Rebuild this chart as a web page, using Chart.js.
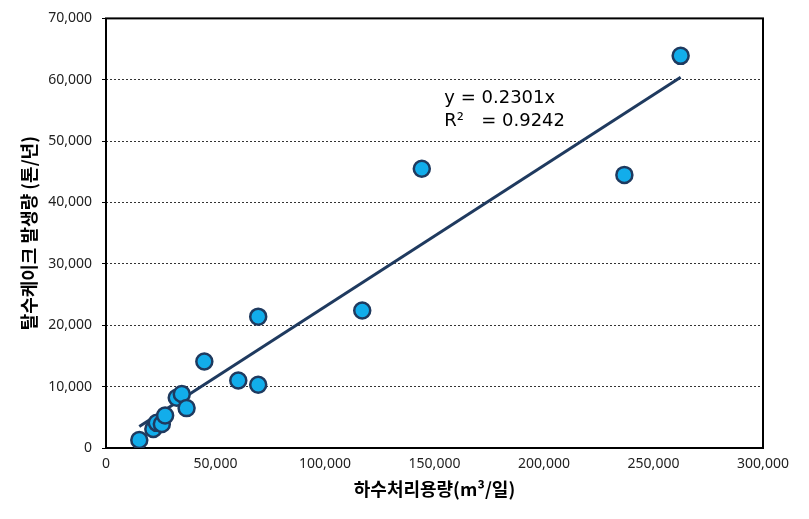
<!DOCTYPE html>
<html>
<head>
<meta charset="utf-8">
<script src="https://cdn.jsdelivr.net/npm/chart.js@4/dist/chart.umd.min.js"></script>
<style>
  html, body { margin: 0; padding: 0; background: #fff; }
  #wrap { width: 809px; height: 519px; }
</style>
</head>
<body>
<div id="wrap"><canvas id="grafico"></canvas></div>
<script>
// datos
const capacidad = [15200, 21600, 23200, 25500, 27000, 32300, 34600, 36800, 44900, 60400, 69500, 69500, 117000, 144200, 236700, 262400];
const generacion = [1300, 3100, 4100, 3900, 5300, 8200, 8800, 6500, 14100, 11000, 10300, 21400, 22400, 45500, 44500, 63900];
const tendenciaX = [15200, 262400];
const tendenciaY = [3500, 60400];
const ecuacion = ['y = 0.2301x', 'R\u00B2   = 0.9242'];
const tituloX = '하수처리용량(m\u00B3/일)';
const tituloY = '탈수케이크 발생량 (톤/년)';

const puntos = capacidad.map((x, i) => ({ x: x, y: generacion[i] }));
const linea = tendenciaX.map((x, i) => ({ x: x, y: tendenciaY[i] }));

// marco negro del área del gráfico + texto de la ecuación
const marcoPlugin = {
  id: 'marco',
  beforeDatasetsDraw(chart) {
    const { ctx, chartArea: a } = chart;
    ctx.save();
    ctx.strokeStyle = '#000';
    ctx.lineWidth = 2;
    ctx.strokeRect(a.left, a.top, a.right - a.left, a.bottom - a.top);
    ctx.restore();
  },
  afterDatasetsDraw(chart) {
    const { ctx, scales } = chart;
    const x = scales.x.getPixelForValue(154500);
    ctx.save();
    ctx.fillStyle = '#000';
    ctx.font = '18px "DejaVu Sans", sans-serif';
    ctx.textBaseline = 'middle';
    ctx.textAlign = 'left';
    ctx.fillText(ecuacion[0], x, scales.y.getPixelForValue(57000));
    ctx.fillText(ecuacion[1], x, scales.y.getPixelForValue(53300));
    ctx.restore();
  }
};

const fmt = v => v.toLocaleString('en-US');

new Chart(document.getElementById('grafico'), {
  type: 'scatter',
  data: {
    datasets: [
      {
        type: 'line',
        data: linea,
        borderColor: '#1F3A5F',
        borderWidth: 3,
        pointRadius: 0,
        fill: false,
        order: 2
      },
      {
        data: puntos,
        backgroundColor: '#12ADEB',
        borderColor: '#1F3A5F',
        borderWidth: 2.5,
        pointRadius: 8,
        order: 1
      }
    ]
  },
  options: {
    responsive: true,
    maintainAspectRatio: false,
    animation: false,
    layout: { padding: { top: 15, right: 46, left: 0, bottom: 0 } },
    plugins: {
      legend: { display: false },
      tooltip: { enabled: false }
    },
    scales: {
      x: {
        type: 'linear',
        min: 0,
        max: 300000,
        border: { display: false },
        grid: { display: false, drawTicks: false },
        ticks: {
          stepSize: 50000,
          padding: 8,
          color: '#222',
          font: { family: '"Noto Sans", sans-serif', size: 14 },
          callback: v => fmt(v)
        },
        title: {
          display: true,
          text: tituloX,
          color: '#000',
          font: { family: '"Noto Sans CJK KR", sans-serif', size: 18, weight: 'bold' },
          padding: { top: 0, bottom: 19 }
        },
        afterFit: s => { s.height = 71; }
      },
      y: {
        type: 'linear',
        min: 0,
        max: 70000,
        border: { display: false, dash: [2, 2] },
        grid: {
          color: c => (c.tick && (c.tick.value === 0 || c.tick.value === 70000)) ? 'rgba(0,0,0,0)' : '#333',
          lineWidth: 1,
          tickLength: 4,
          tickColor: '#000',
          tickBorderDash: []
        },
        ticks: {
          stepSize: 10000,
          padding: 10,
          color: '#222',
          font: { family: '"Noto Sans", sans-serif', size: 14 },
          callback: v => fmt(v)
        },
        title: {
          display: true,
          text: tituloY,
          color: '#000',
          font: { family: '"Noto Sans CJK KR", sans-serif', size: 18, weight: 'bold' },
          padding: { top: 18, bottom: 0 }
        },
        afterFit: s => { s.width = 106; }
      }
    }
  },
  plugins: [marcoPlugin]
});
</script>
</body>
</html>
